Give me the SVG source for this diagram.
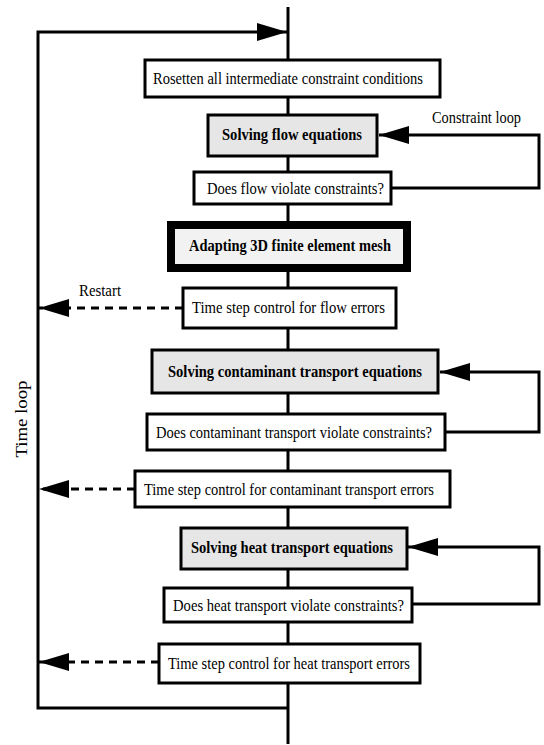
<svg xmlns="http://www.w3.org/2000/svg" width="544" height="745" viewBox="0 0 544 745">
<style>
.box{fill:#ffffff;stroke:#000;stroke-width:3}
.grey{fill:#e6e6e6;stroke:#000;stroke-width:3}
.thick{fill:#f2f2f2;stroke:#000;stroke-width:8}
.ln{fill:none;stroke:#000;stroke-width:3}
.dash{fill:none;stroke:#000;stroke-width:3;stroke-dasharray:8,6}
text{font-family:"Liberation Serif","Times New Roman",serif;font-size:17px;fill:#000}
.b{font-weight:bold}
</style>
<defs>
<marker id="ah" markerUnits="userSpaceOnUse" markerWidth="30" markerHeight="18" refX="30" refY="9" orient="auto">
<path d="M0,0 L30,9 L0,18 z" fill="#000"/>
</marker>
</defs>
<rect width="544" height="745" fill="#fff"/>
<g id="connectors">
<line class="ln" x1="288" y1="7" x2="288" y2="744"/>
<polyline class="ln" points="288,708 38,708 38,32 287,32" marker-end="url(#ah)"/>
<polyline class="ln" points="392,188 539,188 539,135 379,135" marker-end="url(#ah)"/>
<polyline class="ln" points="445,432 539,432 539,372 440,372" marker-end="url(#ah)"/>
<polyline class="ln" points="412,604 539,604 539,547 408,547" marker-end="url(#ah)"/>
<line class="dash" x1="183" y1="308" x2="39" y2="308" marker-end="url(#ah)"/>
<line class="dash" x1="135" y1="489" x2="39" y2="489" marker-end="url(#ah)"/>
<line class="dash" x1="159" y1="662" x2="39" y2="662" marker-end="url(#ah)"/>
<text x="432" y="123" textLength="89" lengthAdjust="spacingAndGlyphs">Constraint loop</text>
<text x="79" y="296" textLength="42" lengthAdjust="spacingAndGlyphs">Restart</text>
<text transform="translate(27,419) rotate(-90)" text-anchor="middle" textLength="77" lengthAdjust="spacingAndGlyphs">Time loop</text>
</g>
<g id="n1"><rect class="box" x="145" y="60" width="295" height="37"/><text x="153" y="84" textLength="270" lengthAdjust="spacingAndGlyphs">Rosetten all intermediate constraint conditions</text></g>
<g id="n2"><rect class="grey" x="208" y="115" width="169" height="41"/><text class="b" x="222" y="140" textLength="140" lengthAdjust="spacingAndGlyphs">Solving flow equations</text></g>
<g id="n3"><rect class="box" x="194" y="172" width="197" height="32"/><text x="207" y="194" textLength="177" lengthAdjust="spacingAndGlyphs">Does flow violate constraints?</text></g>
<g id="n4"><rect class="thick" x="171" y="225" width="236" height="43"/><text class="b" x="189" y="251" textLength="202" lengthAdjust="spacingAndGlyphs">Adapting 3D finite element mesh</text></g>
<g id="n5"><rect class="box" x="183" y="288" width="213" height="40"/><text x="192" y="313" textLength="193" lengthAdjust="spacingAndGlyphs">Time step control for flow errors</text></g>
<g id="n6"><rect class="grey" x="152" y="350" width="286" height="43"/><text class="b" x="168" y="377" textLength="254" lengthAdjust="spacingAndGlyphs">Solving contaminant transport equations</text></g>
<g id="n7"><rect class="box" x="147" y="414" width="298" height="36"/><text x="156" y="438" textLength="276" lengthAdjust="spacingAndGlyphs">Does contaminant transport violate constraints?</text></g>
<g id="n8"><rect class="box" x="135" y="471" width="315" height="36"/><text x="144" y="495" textLength="290" lengthAdjust="spacingAndGlyphs">Time step control for contaminant transport errors</text></g>
<g id="n9"><rect class="grey" x="181" y="528" width="226" height="41"/><text class="b" x="191" y="553" textLength="202" lengthAdjust="spacingAndGlyphs">Solving heat transport equations</text></g>
<g id="n10"><rect class="box" x="164" y="588" width="248" height="34"/><text x="173" y="611" textLength="231" lengthAdjust="spacingAndGlyphs">Does heat transport violate constraints?</text></g>
<g id="n11"><rect class="box" x="159" y="644" width="261" height="39"/><text x="168" y="669" textLength="242" lengthAdjust="spacingAndGlyphs">Time step control for heat transport errors</text></g>
</svg>
